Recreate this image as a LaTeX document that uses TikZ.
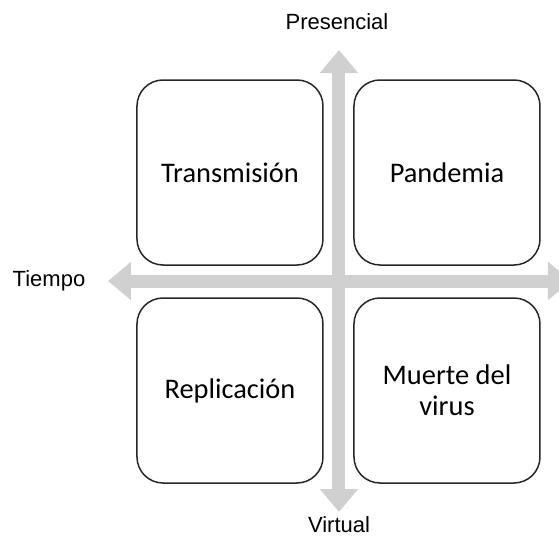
\documentclass[tikz,border=0pt]{standalone}
\usepackage{fontspec}
\setmainfont{Carlito}
\newfontfamily\axisfont{Liberation Sans}
\usetikzlibrary{arrows.meta}
\definecolor{axisgray}{HTML}{D0D0D0}

\begin{document}
\begin{tikzpicture}[x = .5pt, y = -.5pt,
    quad/.style = {draw = black!85, line width = .75pt, rounded corners = 13pt,
        minimum width = 93pt, minimum height = 92.5pt, align = center,
        font = \fontsize{14.2}{15.5}\selectfont},
    axis/.style = {draw = axisgray, line width = 6.5pt,
        {Triangle[width = 18.5pt, length = 11.5pt]}-{Triangle[width = 18.5pt, length = 11.5pt]}},
    axislabel/.style = {inner sep = 0pt, font = \axisfont\fontsize{11}{13}\selectfont}]
\clip (0, 0) rectangle (559, 536);

% Les axes
\coordinate (haut) at (339, 50);
\coordinate (bas) at (339, 512);
\coordinate (gauche) at (108, 281);
\coordinate (droite) at (571, 281);
\draw[axis] (bas) -- (haut);
\draw[axis] (gauche) -- (droite);

% Les quatre cases
\foreach \x/\y/\nom/\texte in {230/172.5/tr/Transmisión, 447/172.5/pa/Pandemia,
    230/390.5/re/Replicación, 447/390.5/mu/{Muerte del\\virus}}{
    \node[quad] (\nom) at (\x, \y) {\texte};
}

% Les étiquettes
\node[axislabel] (presencial) at (337, 22) {Presencial};
\node[axislabel] (tiempo) at (49, 281) {Tiempo};
\node[axislabel] (virtual) at (339, 525) {Virtual};
\end{tikzpicture}
\end{document}
